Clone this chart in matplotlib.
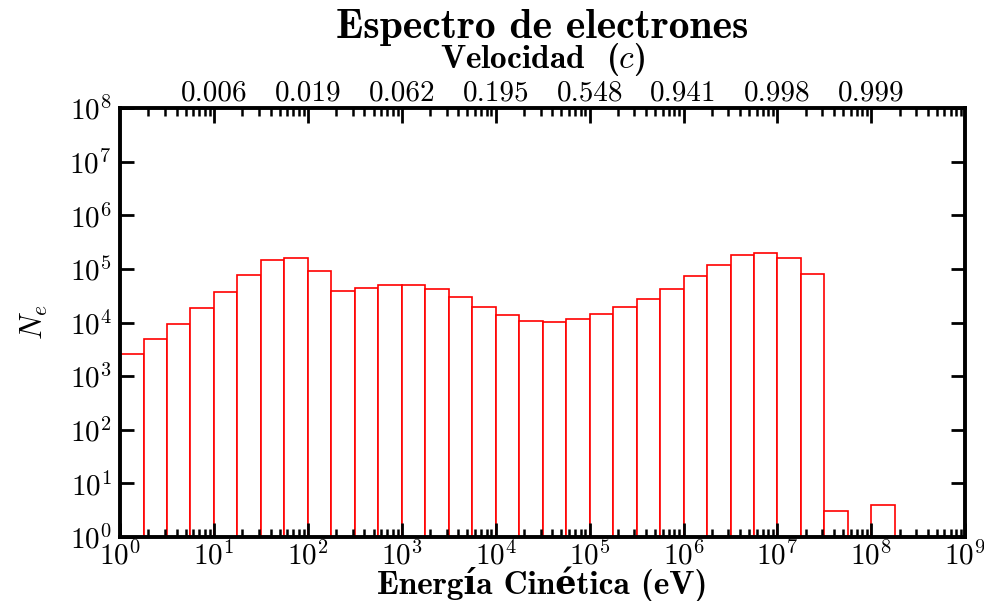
import numpy as np
import matplotlib
matplotlib.use('Agg')
import matplotlib.pyplot as plt
from matplotlib.ticker import LogLocator, NullLocator, NullFormatter

plt.rcParams['font.family'] = 'serif'
plt.rcParams['font.serif'] = ['cmr10', 'DejaVu Serif']
plt.rcParams['mathtext.fontset'] = 'cm'
plt.rcParams['axes.formatter.use_mathtext'] = True

# electron counts per bin, 4 bins per decade starting at 1 eV
counts = [2600, 4900, 9400, 18600, 37000, 77000, 147000, 160000,
          92000, 39000, 44000, 50000, 50000, 42000, 30000, 19500,
          14000, 10700, 10200, 11600, 14500, 19500, 27500, 42000,
          74000, 118000, 183000, 198000, 160000, 81000, 3, 0, 4]
edges = np.logspace(0, len(counts) / 4, len(counts) + 1)
centers = np.sqrt(edges[:-1] * edges[1:])

# top axis: velocity (in units of c) at these energies
vel_energies = [1e1, 1e2, 1e3, 1e4, 1e5, 1e6, 1e7, 1e8]
vel_labels = ['0.006', '0.019', '0.062', '0.195', '0.548', '0.941', '0.998', '0.999']

bold = ['cmb10', 'DejaVu Serif']

fig = plt.figure(figsize=(9.84, 6.01), dpi=100)
ax = fig.add_axes([0.122, 0.1065, 0.859, 0.7135])

ax.hist(centers, bins=edges, weights=counts, histtype='bar',
        facecolor='white', edgecolor='red', linewidth=1.2)

ax.set_xscale('log')
ax.set_yscale('log')
ax.set_xlim(1, 1e9)
ax.set_ylim(1, 1e8)
ax.xaxis.set_major_locator(LogLocator(base=10, numticks=20))
ax.xaxis.set_minor_locator(LogLocator(base=10, subs=np.arange(2, 10), numticks=20))
ax.xaxis.set_minor_formatter(NullFormatter())
ax.yaxis.set_major_locator(LogLocator(base=10, numticks=20))
ax.yaxis.set_minor_locator(NullLocator())

for s in ax.spines.values():
    s.set_linewidth(2.8)
ax.tick_params(axis='both', which='major', direction='in', labelsize=21,
               length=10, width=2)
ax.tick_params(axis='x', which='minor', direction='in', length=6, width=1.8)
ax.tick_params(axis='y', which='major', right=True, pad=6)
ax.tick_params(axis='x', which='major', pad=3)

ax.set_xlabel('Energía Cinética (eV)', family=bold, fontweight='bold',
              fontsize=24, labelpad=-3)
ax.set_ylabel(r'$N_e$', fontsize=22, labelpad=14)

ax2 = ax.twiny()
ax2.set_xscale('log')
ax2.set_xlim(ax.get_xlim())
ax2.set_xticks(vel_energies)
ax2.set_xticklabels(vel_labels)
ax2.xaxis.set_minor_locator(LogLocator(base=10, subs=np.arange(2, 10), numticks=20))
ax2.xaxis.set_minor_formatter(NullFormatter())
ax2.tick_params(axis='x', which='major', direction='in', length=11, width=2,
                labelsize=21, pad=1)
ax2.tick_params(axis='x', which='minor', direction='in', length=6, width=1.8)
ax2.set_xlabel(r'Velocidad  ($c$)', family=bold, fontweight='bold',
               fontsize=24, labelpad=9)

fig.text(0.5515, 0.955, 'Espectro de electrones', family=bold,
         fontweight='bold', fontsize=30, ha='center', va='center')

fig.savefig('out.png', dpi=100)
